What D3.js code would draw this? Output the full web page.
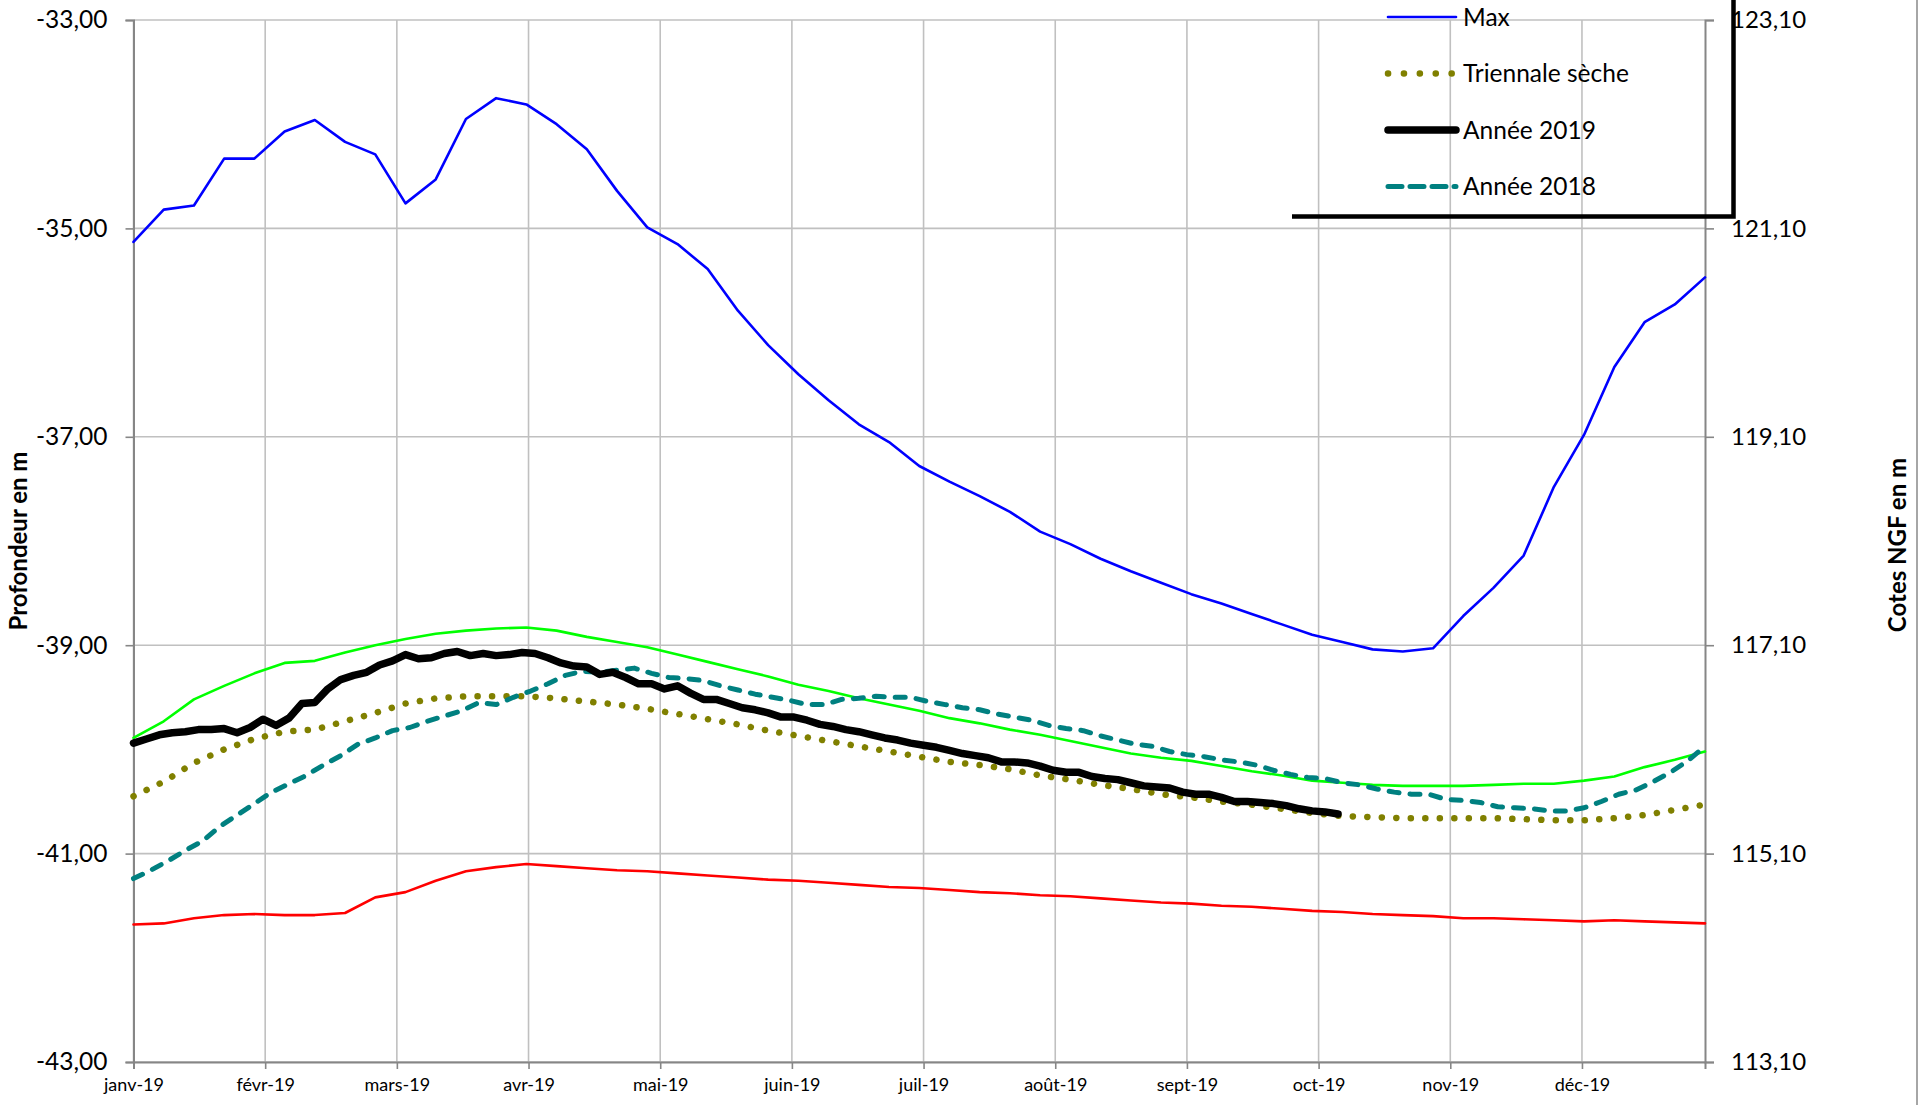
<!DOCTYPE html>
<html>
<head>
<meta charset="utf-8">
<script src="https://cdnjs.cloudflare.com/ajax/libs/d3/7.8.5/d3.min.js"></script>
<style>
body { margin: 0; background: #fff; }
svg { display: block; font-family: Lato, "Open Sans", sans-serif; }
</style>
</head>
<body>
<div id="chart"></div>
<script>

// month labels of the x axis
var monthLabels = ["janv-19", "févr-19", "mars-19", "avr-19", "mai-19", "juin-19",
	"juil-19", "août-19", "sept-19", "oct-19", "nov-19", "déc-19"];

// weekly statistics (one value per week, 53 weeks)
var maxWeekly = [-35.13, -34.82, -34.78, -34.33, -34.33, -34.07, -33.96, -34.17, -34.29, -34.76,
	-34.53, -33.95, -33.75, -33.81, -34.00, -34.24, -34.64, -34.99, -35.15, -35.39,
	-35.79, -36.12, -36.40, -36.65, -36.88, -37.05, -37.28, -37.43, -37.57, -37.72,
	-37.91, -38.03, -38.17, -38.29, -38.40, -38.51, -38.60, -38.70, -38.80, -38.90,
	-38.97, -39.04, -39.06, -39.03, -38.72, -38.45, -38.14, -37.48, -36.98, -36.33,
	-35.90, -35.73, -35.47];

var minWeekly = [-41.68, -41.67, -41.62, -41.59, -41.58, -41.59, -41.59, -41.57, -41.42, -41.37,
	-41.26, -41.17, -41.13, -41.10, -41.12, -41.14, -41.16, -41.17, -41.19, -41.21,
	-41.23, -41.25, -41.26, -41.28, -41.30, -41.32, -41.33, -41.35, -41.37, -41.38,
	-41.40, -41.41, -41.43, -41.45, -41.47, -41.48, -41.50, -41.51, -41.53, -41.55,
	-41.56, -41.58, -41.59, -41.60, -41.62, -41.62, -41.63, -41.64, -41.65, -41.64,
	-41.65, -41.66, -41.67];

var meanWeekly = [-39.89, -39.73, -39.52, -39.39, -39.27, -39.17, -39.15, -39.07, -39.00, -38.94,
	-38.89, -38.86, -38.84, -38.83, -38.86, -38.92, -38.97, -39.02, -39.09, -39.16,
	-39.23, -39.30, -39.38, -39.44, -39.51, -39.57, -39.63, -39.70, -39.75, -39.81,
	-39.86, -39.92, -39.98, -40.04, -40.08, -40.11, -40.16, -40.21, -40.25, -40.30,
	-40.32, -40.34, -40.35, -40.35, -40.35, -40.34, -40.33, -40.33, -40.30, -40.26,
	-40.17, -40.10, -40.02];

var triennaleWeekly = [-40.45, -40.31, -40.13, -40.00, -39.90, -39.83, -39.81, -39.73, -39.65, -39.56,
	-39.51, -39.49, -39.49, -39.49, -39.51, -39.54, -39.57, -39.61, -39.66, -39.71,
	-39.76, -39.82, -39.87, -39.92, -39.97, -40.02, -40.07, -40.12, -40.15, -40.19,
	-40.25, -40.29, -40.34, -40.38, -40.43, -40.46, -40.50, -40.53, -40.57, -40.61,
	-40.64, -40.65, -40.66, -40.66, -40.66, -40.66, -40.67, -40.68, -40.68, -40.66,
	-40.63, -40.58, -40.53];

// 2019 readings, one every 3 days
var annee2019 = [-39.94, -39.90, -39.86, -39.84, -39.83, -39.81, -39.81, -39.80, -39.84, -39.79,
	-39.71, -39.77, -39.70, -39.56, -39.55, -39.42, -39.33, -39.29, -39.26, -39.19,
	-39.15, -39.09, -39.13, -39.12, -39.08, -39.06, -39.10, -39.08, -39.10, -39.09,
	-39.07, -39.08, -39.12, -39.17, -39.20, -39.21, -39.28, -39.26, -39.31, -39.37,
	-39.37, -39.42, -39.39, -39.46, -39.52, -39.52, -39.56, -39.60, -39.62, -39.65,
	-39.69, -39.69, -39.72, -39.76, -39.78, -39.81, -39.83, -39.86, -39.89, -39.91,
	-39.94, -39.96, -39.98, -40.01, -40.04, -40.06, -40.08, -40.12, -40.12, -40.13,
	-40.16, -40.20, -40.22, -40.22, -40.26, -40.28, -40.29, -40.32, -40.35, -40.36,
	-40.37, -40.41, -40.43, -40.43, -40.46, -40.50, -40.50, -40.51, -40.52, -40.54,
	-40.57, -40.59, -40.60, -40.62];

// 2018 readings, one every 4 days
var annee2018 = [-41.24, -41.16, -41.07, -40.97, -40.88, -40.74, -40.63, -40.52, -40.41, -40.33,
	-40.25, -40.15, -40.06, -39.95, -39.89, -39.82, -39.79, -39.73, -39.68, -39.63,
	-39.55, -39.57, -39.50, -39.44, -39.37, -39.29, -39.25, -39.26, -39.24, -39.22,
	-39.27, -39.31, -39.32, -39.34, -39.39, -39.43, -39.47, -39.50, -39.53, -39.57,
	-39.57, -39.52, -39.51, -39.49, -39.50, -39.50, -39.54, -39.57, -39.60, -39.62,
	-39.66, -39.69, -39.72, -39.77, -39.80, -39.82, -39.87, -39.91, -39.95, -39.97,
	-40.02, -40.05, -40.07, -40.10, -40.12, -40.15, -40.20, -40.24, -40.27, -40.28,
	-40.32, -40.34, -40.38, -40.41, -40.43, -40.43, -40.48, -40.49, -40.51, -40.55,
	-40.56, -40.57, -40.59, -40.59, -40.56, -40.50, -40.43, -40.39, -40.31, -40.22,
	-40.11, -39.97];

var depthTicks = [-43, -41, -39, -37, -35, -33];
var ngfTicks = [113.1, 115.1, 117.1, 119.1, 121.1, 123.1];
var legendNames = ["Max", "Triennale sèche", "Année 2019", "Année 2018"];


function chart(){

	var width = 1920, height = 1105;
	var left = 133.5, right = 1705, top = 20, bottom = 1062;

	var fr = d3.formatLocale({decimal: ",", thousands: " ", grouping: [3], currency: ["", " €"], minus: "-"});
	var f2 = fr.format(".2f");

	var svg = d3.select("#chart")
		.append("svg")
		.attr("width", width)
		.attr("height", height);

	var x = d3.scaleLinear().domain([0, 364]).range([left, right]);
	var y = d3.scaleLinear().domain([-43, -33]).range([bottom, top]);
	var y2 = d3.scaleLinear().domain([113.1, 123.1]).range([bottom, top]);

	// month ticks are evenly spaced on the original axis
	var monthDays = monthLabels.map(function(d, i){ return i * 30.5; });

	// grid
	svg.append("g")
		.selectAll("line.h")
		.data(depthTicks)
		.enter().append("line")
		.attr("x1", left).attr("x2", right)
		.attr("y1", function(d){ return y(d); })
		.attr("y2", function(d){ return y(d); })
		.attr("stroke", "#c0c0c0")
		.attr("stroke-width", 1.6);

	svg.append("g")
		.selectAll("line.v")
		.data(monthDays)
		.enter().append("line")
		.attr("x1", function(d){ return x(d); })
		.attr("x2", function(d){ return x(d); })
		.attr("y1", top).attr("y2", bottom)
		.attr("stroke", "#c0c0c0")
		.attr("stroke-width", 1.6);

	// axes
	var axisColor = "#868686";

	var gLeft = svg.append("g")
		.attr("transform", "translate(" + left + ",0)")
		.call(d3.axisLeft(y).tickValues(depthTicks).tickFormat(f2).tickSize(8).tickPadding(18));

	var gRight = svg.append("g")
		.attr("transform", "translate(" + right + ",0)")
		.call(d3.axisRight(y2).tickValues(ngfTicks).tickFormat(f2).tickSize(9).tickPadding(17));

	var gBottom = svg.append("g")
		.attr("transform", "translate(0," + bottom + ")")
		.call(d3.axisBottom(x).tickValues(monthDays)
			.tickFormat(function(d, i){ return monthLabels[i]; })
			.tickSize(7).tickPadding(9));

	[gLeft, gRight, gBottom].forEach(function(g){
		g.select(".domain").attr("stroke", axisColor).attr("stroke-width", 2);
		g.selectAll(".tick line").attr("stroke", axisColor).attr("stroke-width", 1.6);
		g.selectAll(".tick text").attr("fill", "#000").style("font-family", "Lato, 'Open Sans', sans-serif");
	});
	gLeft.selectAll(".tick text").style("font-size", "24.5px");
	gRight.selectAll(".tick text").style("font-size", "24px");
	gBottom.selectAll(".tick text").style("font-size", "18px");

	// axis titles
	svg.append("text")
		.attr("transform", "translate(27,541) rotate(-90)")
		.attr("text-anchor", "middle")
		.style("font-size", "24px")
		.style("font-weight", "bold")
		.text("Profondeur en m");

	svg.append("text")
		.attr("transform", "translate(1906,545) rotate(-90)")
		.attr("text-anchor", "middle")
		.style("font-size", "24px")
		.style("font-weight", "bold")
		.text("Cotes NGF en m");

	// chart area border on the right
	svg.append("line")
		.attr("x1", 1917).attr("x2", 1917)
		.attr("y1", 0).attr("y2", height)
		.attr("stroke", "#a6a6a6")
		.attr("stroke-width", 2);

	// series
	var line = d3.line()
		.x(function(d){ return x(d.day); })
		.y(function(d){ return y(d.v); });

	function every(values, step){
		return values.map(function(v, i){ return {day: i * step, v: v}; });
	}

	var series = [
		{data: every(minWeekly, 7), color: "#ff0000", width: 2.6},
		{data: every(meanWeekly, 7), color: "#00ff00", width: 2.6},
		{data: every(maxWeekly, 7), color: "#0000ff", width: 2.6},
		{data: every(triennaleWeekly, 7), color: "#808000", width: 6.5, dash: "0.1 14.4"},
		{data: every(annee2018, 4), color: "#008080", width: 5, dash: "10 11"},
		{data: every(annee2019, 3), color: "#000000", width: 7.5}
	];

	svg.append("g")
		.selectAll("path")
		.data(series)
		.enter().append("path")
		.attr("d", function(d){ return line(d.data); })
		.attr("fill", "none")
		.attr("stroke", function(d){ return d.color; })
		.attr("stroke-width", function(d){ return d.width; })
		.attr("stroke-dasharray", function(d){ return d.dash || null; })
		.attr("stroke-linecap", "round")
		.attr("stroke-linejoin", "round");

	// legend (only bottom and right edges show)
	var legendStyles = [series[2], series[3], series[5], series[4]];
	var legend = svg.append("g");

	legend.selectAll("line.sample")
		.data(legendNames)
		.enter().append("line")
		.attr("x1", 1388).attr("x2", 1456)
		.attr("y1", function(d, i){ return 17 + i * 56.5; })
		.attr("y2", function(d, i){ return 17 + i * 56.5; })
		.attr("stroke", function(d, i){ return legendStyles[i].color; })
		.attr("stroke-width", function(d, i){ return legendStyles[i].width; })
		.attr("stroke-dasharray", function(d, i){ return i == 3 ? "14 8" : (legendStyles[i].dash ? "0.1 15.8" : null); })
		.attr("stroke-linecap", "round");

	legend.selectAll("text")
		.data(legendNames)
		.enter().append("text")
		.attr("x", 1463)
		.attr("y", function(d, i){ return 17 + i * 56.5; })
		.attr("dy", "0.35em")
		.style("font-size", "24.5px")
		.text(function(d){ return d; });

	legend.append("path")
		.attr("d", "M1292,216.5H1733.5V0")
		.attr("fill", "none")
		.attr("stroke", "#000")
		.attr("stroke-width", 4.5);
}

chart();

</script>
</body>
</html>
